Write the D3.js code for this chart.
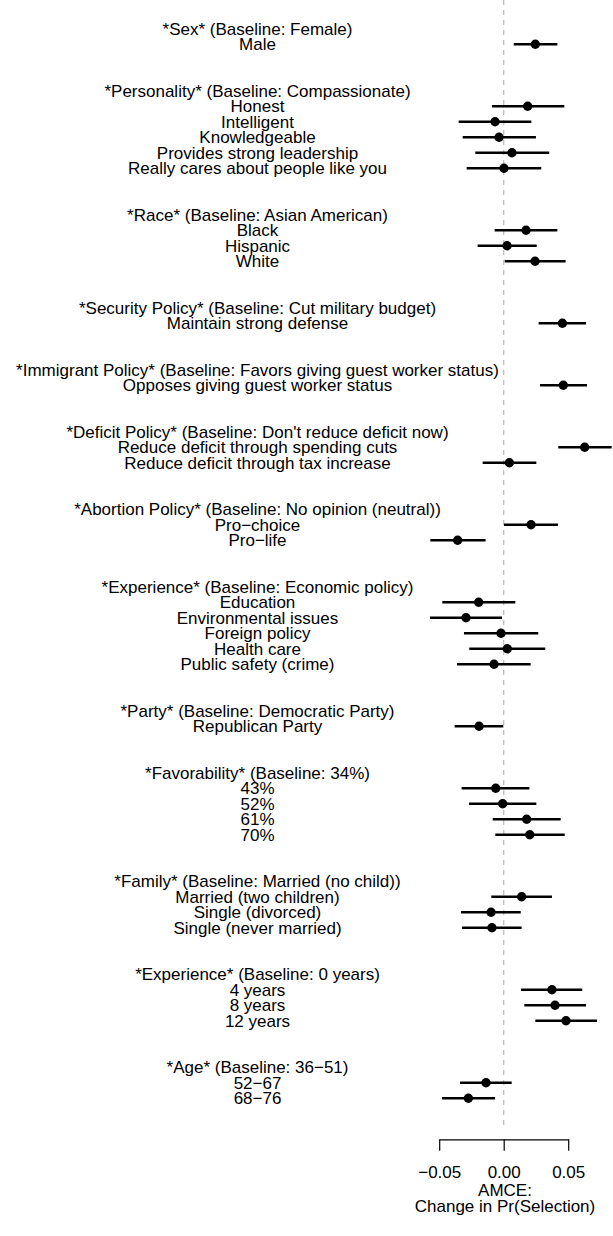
<!DOCTYPE html>
<html>
<head>
<meta charset="utf-8">
<script src="https://cdn.jsdelivr.net/npm/d3@7"></script>
<style>
  body { margin: 0; background: #fff; }
  text { font-family: "Liberation Sans", Arial, sans-serif; fill: #000; }
</style>
</head>
<body>
<div id="chart"></div>
<script>
// attribute headers, one per block
const attributes = [
    "*Sex* (Baseline: Female)",
    "*Personality* (Baseline: Compassionate)",
    "*Race* (Baseline: Asian American)",
    "*Security Policy* (Baseline: Cut military budget)",
    "*Immigrant Policy* (Baseline: Favors giving guest worker status)",
    "*Deficit Policy* (Baseline: Don't reduce deficit now)",
    "*Abortion Policy* (Baseline: No opinion (neutral))",
    "*Experience* (Baseline: Economic policy)",
    "*Party* (Baseline: Democratic Party)",
    "*Favorability* (Baseline: 34%)",
    "*Family* (Baseline: Married (no child))",
    "*Experience* (Baseline: 0 years)",
    "*Age* (Baseline: 36\u221251)"
];

const levels = [
    ["Male"],
    ["Honest", "Intelligent", "Knowledgeable", "Provides strong leadership", "Really cares about people like you"],
    ["Black", "Hispanic", "White"],
    ["Maintain strong defense"],
    ["Opposes giving guest worker status"],
    ["Reduce deficit through spending cuts", "Reduce deficit through tax increase"],
    ["Pro\u2212choice", "Pro\u2212life"],
    ["Education", "Environmental issues", "Foreign policy", "Health care", "Public safety (crime)"],
    ["Republican Party"],
    ["43%", "52%", "61%", "70%"],
    ["Married (two children)", "Single (divorced)", "Single (never married)"],
    ["4 years", "8 years", "12 years"],
    ["52\u221267", "68\u221276"]
];

const estimates = [
    [0.0245],
    [0.0186, -0.0067, -0.0036, 0.0064, 0.0002],
    [0.0173, 0.0026, 0.0243],
    [0.0455],
    [0.0462],
    [0.0628, 0.0044],
    [0.0212, -0.0357],
    [-0.0194, -0.0292, -0.0021, 0.0028, -0.0075],
    [-0.0191],
    [-0.0062, -0.0008, 0.0178, 0.0202],
    [0.0139, -0.0098, -0.0091],
    [0.0374, 0.0398, 0.0483],
    [-0.0137, -0.0274]
];

const lower = [
    [0.0078],
    [-0.0091, -0.0349, -0.0318, -0.0220, -0.0287],
    [-0.0070, -0.0202, 0.0008],
    [0.0271],
    [0.0281],
    [0.0423, -0.0163],
    [0.0002, -0.0569],
    [-0.0476, -0.0571, -0.0308, -0.0267, -0.0362],
    [-0.0380],
    [-0.0326, -0.0269, -0.0085, -0.0065],
    [-0.0096, -0.0331, -0.0323],
    [0.0134, 0.0160, 0.0245],
    [-0.0339, -0.0478]
];

const upper = [
    [0.0416],
    [0.0470, 0.0214, 0.0250, 0.0353, 0.0291],
    [0.0416, 0.0256, 0.0480],
    [0.0638],
    [0.0646],
    [0.0837, 0.0253],
    [0.0421, -0.0140],
    [0.0090, -0.0013, 0.0268, 0.0322, 0.0209],
    [-0.0003],
    [0.0199, 0.0253, 0.0442, 0.0473],
    [0.0374, 0.0132, 0.0139],
    [0.0609, 0.0638, 0.0723],
    [0.0062, -0.0067]
];

const tickValues = [-0.05, 0, 0.05];
const xTitle = ["AMCE:", "Change in Pr(Selection)"];

// build the row list: header, levels, then two empty rows
let rows = [];
let points = [];
attributes.forEach((a, i) => {
    rows.push({label: a, header: true});
    levels[i].forEach((l, j) => {
        let idx = rows.length;
        rows.push({label: l, header: false});
        points.push({row: idx, est: estimates[i][j], lo: lower[i][j], hi: upper[i][j]});
    });
    if (i < attributes.length - 1) {
        rows.push(null);
        rows.push(null);
    }
});

const width = 613, height = 1236;
const fontSize = 17;
const labelX = 257.5;

let svg = d3.select("#chart").append("svg")
    .attr("width", width)
    .attr("height", height);

let y = d3.scaleLinear()
    .domain([0, rows.length - 1])
    .range([28.8, 1098.3]);

let x = d3.scaleLinear()
    .domain([-0.05, 0.05])
    .range([439.2, 568.2]);

// zero reference line
svg.append("line")
    .attr("x1", x(0)).attr("x2", x(0))
    .attr("y1", 0).attr("y2", 1127)
    .attr("stroke", "#bebebe")
    .attr("stroke-width", 1.3)
    .attr("stroke-dasharray", "5,5");

// row labels
svg.append("g")
    .selectAll("text")
    .data(rows.map((r, i) => r ? {label: r.label, i: i} : null).filter(d => d))
    .enter().append("text")
    .attr("x", labelX)
    .attr("y", d => y(d.i))
    .attr("dy", "0.35em")
    .attr("text-anchor", "middle")
    .style("font-size", fontSize + "px")
    .text(d => d.label);

// confidence intervals
svg.append("g")
    .selectAll("line")
    .data(points)
    .enter().append("line")
    .attr("x1", d => x(d.lo))
    .attr("x2", d => x(d.hi))
    .attr("y1", d => y(d.row))
    .attr("y2", d => y(d.row))
    .attr("stroke", "#000")
    .attr("stroke-width", 2.6);

// point estimates
svg.append("g")
    .selectAll("circle")
    .data(points)
    .enter().append("circle")
    .attr("cx", d => x(d.est))
    .attr("cy", d => y(d.row))
    .attr("r", 4.7)
    .attr("fill", "#000");

// x axis
let xAxis = d3.axisBottom(x)
    .tickValues(tickValues)
    .tickFormat(d3.format(".2f"))
    .tickSizeOuter(0)
    .tickSizeInner(11.4)
    .tickPadding(15);

let axisG = svg.append("g")
    .attr("transform", "translate(0,1139.3)")
    .call(xAxis);
axisG.selectAll("path, line").attr("stroke", "#000").attr("stroke-width", 1.2);
axisG.selectAll("text")
    .style("font-size", fontSize + "px")
    .style("font-family", "'Liberation Sans', Arial, sans-serif")
    .attr("fill", "#000");

// axis title
svg.append("g")
    .selectAll("text")
    .data(xTitle)
    .enter().append("text")
    .attr("x", 505)
    .attr("y", (d, i) => 1190 + i * 16.5)
    .attr("dy", "0.35em")
    .attr("text-anchor", "middle")
    .style("font-size", fontSize + "px")
    .text(d => d);
</script>
</body>
</html>
